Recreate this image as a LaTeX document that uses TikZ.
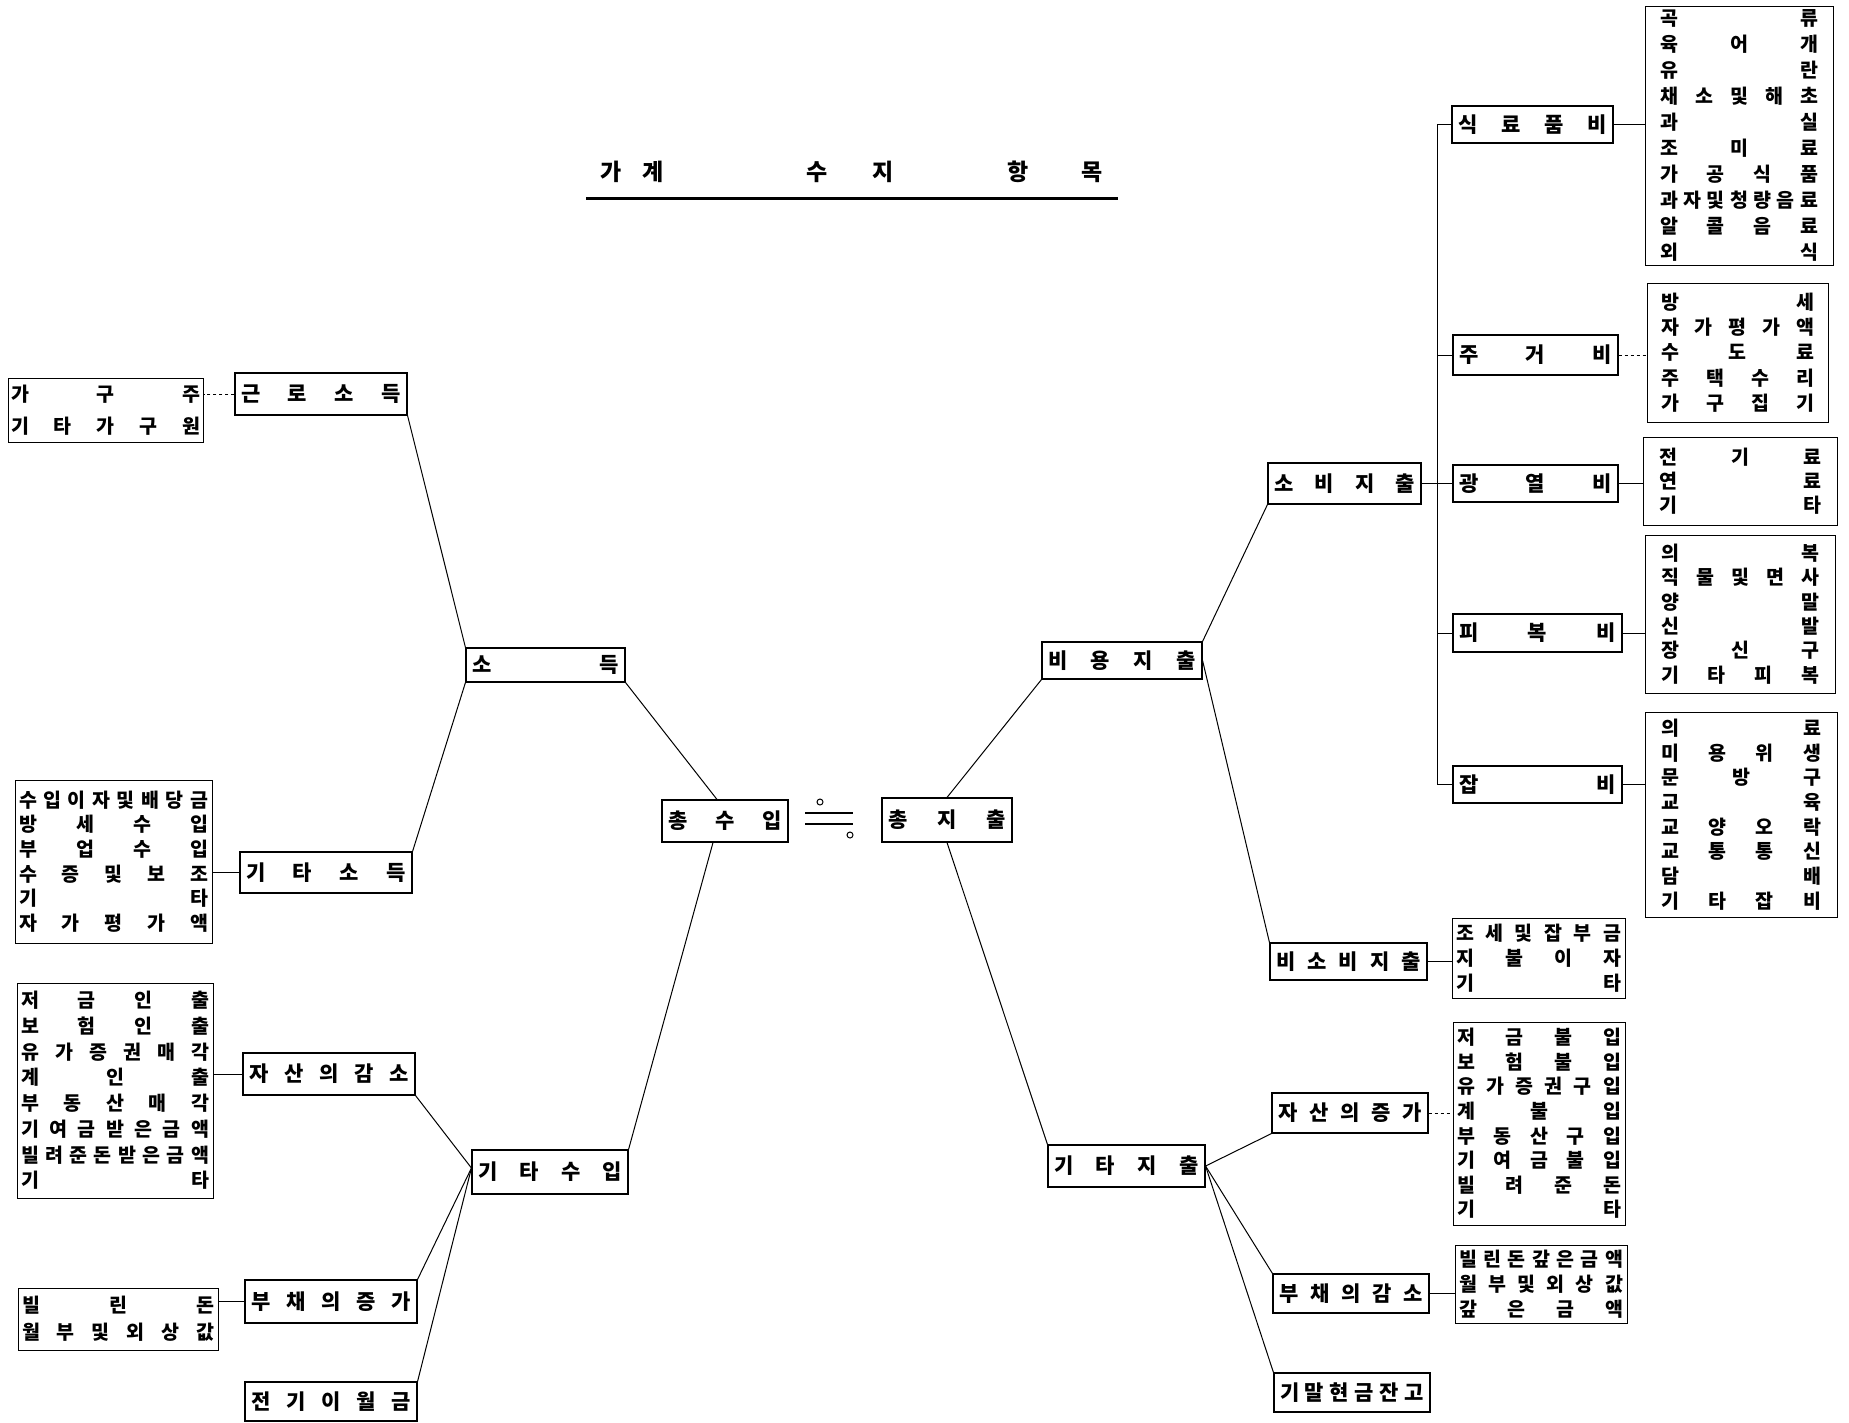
\documentclass[tikz,border=0pt]{standalone}
\usepackage{fontspec}
\setmainfont{Noto Sans CJK KR}
\tikzset{
  mbox/.style={draw, line width=1.1pt, inner sep=0pt, font=\fontsize{21}{24}\selectfont\bfseries},
  lbox/.style={draw, line width=1pt, inner sep=0pt, font=\fontsize{19.5}{22}\selectfont\bfseries},
  conn/.style={line width=1pt},
  ttl/.style={inner sep=0pt, font=\fontsize{23}{26}\selectfont\bfseries},
}
% justified row inside a list
\newcommand\jr[1]{\hbox to \hsize{#1}}
% main box: name, x1, y1, x2, y2, text
\newcommand\mbx[6]{\node[mbox,minimum width={#4-#2},minimum height={#5-#3}] (#1) at ({(#2+#4)/2},{(#3+#5)/2})
  {\spaceskip=0pt plus 1fil\relax\hbox to \dimexpr#4pt-#2pt-12pt\relax{#6}};}
% list box: name, x1, y1, x2, y2, pad, baselineskip, rows
\newcommand\lbx[8]{\node[lbox,minimum width={#4-#2},minimum height={#5-#3}] (#1) at ({(#2+#4)/2},{(#3+#5)/2})
  {\vbox{\hsize=\dimexpr#4pt-#2pt-#6pt-#6pt\relax\baselineskip=#7pt\relax\lineskiplimit=-50pt\relax
   \spaceskip=0pt plus 1fil\relax #8}};}
\begin{document}
\begin{tikzpicture}[x=1pt,y=-1pt]
\fill[white] (0,0) rectangle (1849,1422);
\useasboundingbox (0,0) rectangle (1849,1422);

% ---- title ----
\node[ttl] (t1) at (632,172) {\hbox to 64pt{가\hfil 계}};
\node[ttl] (t2) at (850,172) {\hbox to 88pt{수\hfil 지}};
\node[ttl] (t3) at (1055,172) {\hbox to 96pt{항\hfil 목}};
\draw[line width=3pt] (586,198) -- (1118,198);

% ---- left side ----
\mbx{gl}{235}{373}{407}{415}{근 로 소 득}
\lbx{gllist}{8}{378}{203}{442}{3}{32}{\jr{가 구 주}\jr{기 타 가 구 원}}
\mbx{inc}{466}{648}{625}{682}{소 득}
\mbx{ks}{240}{852}{412}{893}{기 타 소 득}
\lbx{kslist}{15}{780}{212}{943}{4}{24.6}{\jr{수 입 이 자 및 배 당 금}\jr{방 세 수 입}\jr{부 업 수 입}\jr{수 증 및 보 조}\jr{기 타}\jr{자 가 평 가 액}}
\mbx{ad}{243}{1053}{415}{1095}{자 산 의 감 소}
\lbx{adlist}{17}{983}{213}{1198}{4}{25.7}{\jr{저 금 인 출}\jr{보 험 인 출}\jr{유 가 증 권 매 각}\jr{계 인 출}\jr{부 동 산 매 각}\jr{기 여 금 받 은 금 액}\jr{빌 려 준 돈 받 은 금 액}\jr{기 타}}
\mbx{oin}{472}{1150}{628}{1194}{기 타 수 입}
\mbx{di}{245}{1280}{417}{1323}{부 채 의 증 가}
\lbx{dilist}{18}{1288}{218}{1350}{4}{27}{\jr{빌 린 돈}\jr{월 부 및 외 상 값}}
\mbx{prev}{245}{1382}{417}{1421}{전 기 이 월 금}

% ---- centre ----
\mbx{tin}{662}{800}{788}{842}{총 수 입}
\mbx{tout}{882}{798}{1012}{842}{총 지 출}
\draw[line width=1.4pt] (805,813) -- (853,813);
\draw[line width=1.4pt] (805,824) -- (853,824);
\draw[line width=1pt] (820,802) circle (3);
\draw[line width=1pt] (850,835) circle (3);

% ---- right side ----
\mbx{cost}{1042}{642}{1202}{679}{비 용 지 출}
\mbx{cons}{1268}{463}{1421}{504}{소 비 지 출}
\mbx{ncons}{1270}{943}{1427}{980}{비 소 비 지 출}
\lbx{ncl}{1452}{918}{1625}{998}{4}{25}{\jr{조 세 및 잡 부 금}\jr{지 불 이 자}\jr{기 타}}
\mbx{oexp}{1048}{1145}{1205}{1187}{기 타 지 출}
\mbx{ai}{1272}{1093}{1428}{1133}{자 산 의 증 가}
\lbx{ailist}{1453}{1022}{1625}{1225}{4}{24.6}{\jr{저 금 불 입}\jr{보 험 불 입}\jr{유 가 증 권 구 입}\jr{계 불 입}\jr{부 동 산 구 입}\jr{기 여 금 불 입}\jr{빌 려 준 돈}\jr{기 타}}
\mbx{dd}{1273}{1274}{1429}{1313}{부 채 의 감 소}
\lbx{ddlist}{1455}{1245}{1627}{1323}{4}{25}{\jr{빌 린 돈 갚 은 금 액}\jr{월 부 및 외 상 값}\jr{갚 은 금 액}}
\mbx{cash}{1274}{1373}{1430}{1412}{기 말 현 금 잔 고}

\mbx{food}{1452}{106}{1613}{143}{식 료 품 비}
\lbx{foodlist}{1645}{6}{1833}{265}{15}{25.9}{\jr{곡 류}\jr{육 어 개}\jr{유 란}\jr{채 소 및 해 초}\jr{과 실}\jr{조 미 료}\jr{가 공 식 품}\jr{과 자 및 청 량 음 료}\jr{알 콜 음 료}\jr{외 식}}
\mbx{house}{1453}{335}{1618}{375}{주 거 비}
\lbx{houselist}{1647}{283}{1828}{422}{14}{25.25}{\jr{방 세}\jr{자 가 평 가 액}\jr{수 도 료}\jr{주 택 수 리}\jr{가 구 집 기}}
\mbx{fuel}{1453}{465}{1618}{502}{광 열 비}
\lbx{fuellist}{1643}{437}{1837}{525}{16}{24}{\jr{전 기 료}\jr{연 료}\jr{기 타}}
\mbx{cloth}{1453}{614}{1622}{652}{피 복 비}
\lbx{clothlist}{1645}{535}{1835}{693}{16}{24.4}{\jr{의 복}\jr{직 물 및 면 사}\jr{양 말}\jr{신 발}\jr{장 신 구}\jr{기 타 피 복}}
\mbx{misc}{1453}{766}{1622}{803}{잡 비}
\lbx{misclist}{1645}{712}{1837}{917}{16}{24.7}{\jr{의 료}\jr{미 용 위 생}\jr{문 방 구}\jr{교 육}\jr{교 양 오 락}\jr{교 통 통 신}\jr{담 배}\jr{기 타 잡 비}}

% ---- connectors, left ----
\draw[conn,dashed] (gl.west) -- (gl.west -| gllist.east);
\draw[conn] (gl.south east) -- (inc.north west);
\draw[conn] (ks.north east) -- (inc.south west);
\draw[conn] (ks.west) -- (ks.west -| kslist.east);
\draw[conn] (inc.south east) -- ([xshift=-8pt]tin.north);
\draw[conn] (ad.west) -- (ad.west -| adlist.east);
\draw[conn] (ad.south east) -- ([yshift=4pt]oin.west);
\draw[conn] (di.north east) -- ([yshift=4pt]oin.west);
\draw[conn] (prev.north east) -- ([yshift=4pt]oin.west);
\draw[conn] (di.west) -- (di.west -| dilist.east);
\draw[conn] (oin.north east) -- ([xshift=-12pt]tin.south);

% ---- connectors, right ----
\draw[conn] (tout.north) -- (cost.south west);
\draw[conn] (tout.south) -- (oexp.north west);
\draw[conn] (cost.north east) -- (cons.south west);
\draw[conn] (cost.east) -- (ncons.north west);
\coordinate (bus) at (1437,0);
\draw[conn] (food.west -| bus) -- (misc.west -| bus);
\foreach \n in {food,house,fuel,cloth,misc} \draw[conn] (\n.west -| bus) -- (\n.west);
\draw[conn] (cons.east) -- (cons.east -| bus);
\draw[conn] (food.east) -- (food.east -| foodlist.west);
\draw[conn,dashed] (house.east) -- (house.east -| houselist.west);
\draw[conn] (fuel.east) -- (fuel.east -| fuellist.west);
\draw[conn] (cloth.east) -- (cloth.east -| clothlist.west);
\draw[conn] (misc.east) -- (misc.east -| misclist.west);
\draw[conn] (ncons.east) -- (ncons.east -| ncl.west);
\draw[conn] (oexp.east) -- (ai.south west);
\draw[conn] (oexp.east) -- (dd.north west);
\draw[conn] (oexp.east) -- (cash.north west);
\draw[conn,dashed] (ai.east) -- (ai.east -| ailist.west);
\draw[conn] (dd.east) -- (dd.east -| ddlist.west);
\end{tikzpicture}
\end{document}
